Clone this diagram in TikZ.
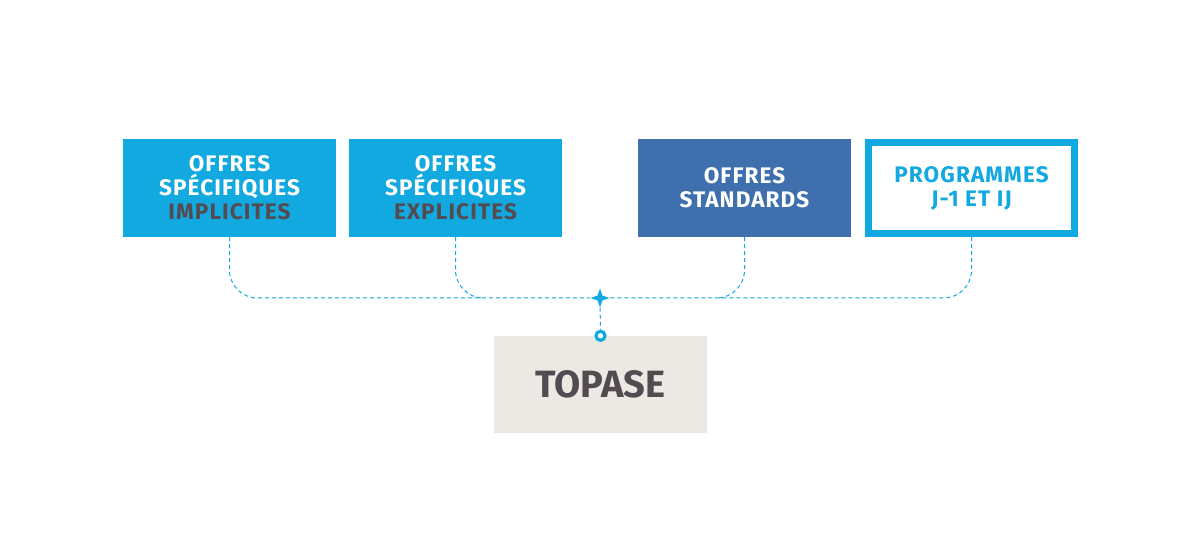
\documentclass[tikz,border=0pt]{standalone}
\usepackage{fontspec}
\setmainfont{Fira Sans}
\usetikzlibrary{positioning, shapes.geometric, backgrounds}
\definecolor{topblue}{HTML}{12A8E0}
\definecolor{stdblue}{HTML}{3F70AD}
\definecolor{topgrey}{HTML}{EBE9E4}
\definecolor{topdark}{HTML}{544B50}
\tikzstyle{offre}=[minimum width=213pt, minimum height=98pt, inner sep=0pt, align=center, text=white, font=\fontsize{22.5}{24}\selectfont\bfseries\addfontfeatures{LetterSpace=5}]
\tikzstyle{conn}=[draw=topblue, line width=1pt, dash pattern=on 4pt off 3pt, rounded corners=28pt]
\newcommand{\offre}{\node[offre]}

\begin{document}
\begin{tikzpicture}[x=1pt, y=-1pt]
                    \useasboundingbox (0,0) rectangle (1201,534);
                    \offre (imp) at (229.5,188) [fill=topblue]{OFFRES\\SPÉCIFIQUES\\\textcolor{topdark}{IMPLICITES}};
                    \offre (exp) at (455.5,188) [fill=topblue]{OFFRES\\SPÉCIFIQUES\\\textcolor{topdark}{EXPLICITES}};
                    \offre (std) at (744.5,188) [fill=stdblue]{OFFRES\\STANDARDS};
                    \offre (prog) at (971.5,188) [draw=topblue, line width=7pt, fill=white, text=topblue, minimum width=206pt, minimum height=91pt]{PROGRAMMES\\J-1 ET IJ};
                    \node (topase) at (600.5,384.5) [fill=topgrey, minimum width=213pt, minimum height=97pt, text=topdark, font=\fontsize{38}{40}\selectfont\bfseries]{TOPASE};
                    \node (star) at (600,298) [star, star points=4, star point ratio=2.8, fill=topblue, inner sep=0pt, minimum size=19pt]{};
                    \node (ring) at (topase.north) [circle, draw=topblue, line width=3.2pt, fill=white, inner sep=0pt, minimum size=9pt]{};
                    \begin{scope}[on background layer]
                    \path[conn]
                        (imp.south) |- (star)
                        (exp.south) |- ([xshift=30pt]exp.south |- star)
                        (std.south) |- ([xshift=-30pt]std.south |- star)
                        (prog.south) |- (star)
                        (star) -- (ring)
                    ;
                    \end{scope}
                \end{tikzpicture}
\end{document}
